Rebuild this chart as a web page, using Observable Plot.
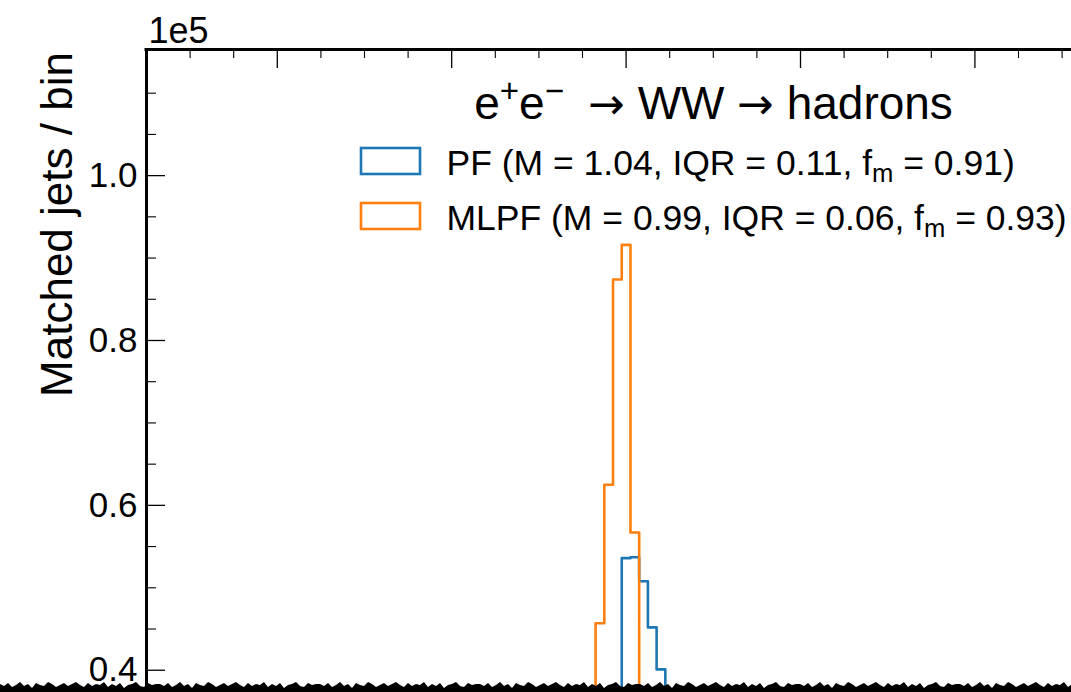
<!DOCTYPE html>
<html><head><meta charset="utf-8">
<script src="https://cdn.jsdelivr.net/npm/d3@7"></script>
<script src="https://cdn.jsdelivr.net/npm/@observablehq/plot@0.6"></script>
<style>
html,body{margin:0;padding:0;background:#fff;overflow:hidden;}
#wrap{position:relative;width:1071px;height:692px;}
#tear{position:absolute;left:0;top:681px;width:1071px;height:11px;background:#000;}
</style></head><body><div id="wrap"><div id="chart"></div><div id="tear"></div></div>
<script>
// ---- data (counts in units of 1e5 matched jets per bin) ----
const mlpfEdges  = [0.9125, 0.9375, 0.9625, 0.9875, 1.0125, 1.0375];
const mlpfCounts = [0.457, 0.625, 0.874, 0.916, 0.567];
const pfEdges    = [0.9875, 1.0125, 1.0375, 1.0625, 1.0875, 1.1125];
const pfCounts   = [0.536, 0.537, 0.508, 0.452, 0.401];
const belowWindow = 0.30;   // neighbouring bins lie below the visible window
const yTicks = [0.4, 0.6, 0.8, 1.0];
const yTickLabels = ["0.4", "0.6", "0.8", "1.0"];
const yMinor = [0.45, 0.5, 0.55, 0.65, 0.7, 0.75, 0.85, 0.9, 0.95, 1.05, 1.1];
const xMajor = [0, 0.5, 1.0, 1.5, 2.0];
const xMinor = [-0.25, -0.125, 0.125, 0.25, 0.375, 0.625, 0.75, 0.875, 1.125, 1.25, 1.375, 1.625, 1.75, 1.875, 2.125, 2.25];
const title = "e^{+}e^{−} → WW → hadrons";
const seriesNames = ["PF", "MLPF"];
const seriesLabels = ["PF (M = 1.04, IQR = 0.11, f_{m} = 0.91)", "MLPF (M = 0.99, IQR = 0.06, f_{m} = 0.93)"];
const seriesColors = ["#1f77b4", "#ff7f0e"];
const yLabel = "Matched jets / bin";
const offsetLabel = "1e5";

// ---- layout ----
const W = 1071, H = 692, ML = 146, MT = 49;
const xDom = [-0.375, -0.375 + (W - ML) / 348.8];
const yDom = [0.373, 1.153];
const X = d3.scaleLinear().domain(xDom).range([ML, W]);
const Y = d3.scaleLinear().domain(yDom).range([H, MT]);
const font = "'Liberation Sans', Arial, Helvetica, sans-serif";

function steps(edges, counts) {
  const pts = [{x: edges[0] - (edges[1] - edges[0]), y: belowWindow}];
  counts.forEach((c, i) => pts.push({x: edges[i], y: c}));
  pts.push({x: edges[edges.length - 1], y: belowWindow});
  pts.push({x: edges[edges.length - 1] + (edges[1] - edges[0]), y: belowWindow});
  return pts;
}

const legend = seriesNames.map((s, i) => ({
  name: s, label: seriesLabels[i], color: seriesColors[i],
  x1: X.invert(361), x2: X.invert(420),
  y1: Y.invert(148 + i * 55), y2: Y.invert(174 + i * 55),
  tx: X.invert(446), ty: Y.invert(174.5 + i * 55)
}));

const chart = Plot.plot({
  width: W, height: H,
  marginLeft: ML, marginRight: 0, marginTop: MT, marginBottom: 0,
  x: {domain: xDom, axis: null},
  y: {domain: yDom, axis: null},
  style: {fontFamily: font, background: "white", overflow: "visible", color: "#000"},
  marks: [
    Plot.line(steps(pfEdges, pfCounts), {x: "x", y: "y", curve: "step-after", stroke: seriesColors[0], strokeWidth: 2.6, clip: true}),
    Plot.line(steps(mlpfEdges, mlpfCounts), {x: "x", y: "y", curve: "step-after", stroke: seriesColors[1], strokeWidth: 2.6, clip: true}),
    Plot.ruleY(yTicks, {y: d => d, x1: xDom[0], x2: X.invert(ML + 19), stroke: "#000", strokeWidth: 1.3}),
    Plot.ruleY(yMinor, {y: d => d, x1: xDom[0], x2: X.invert(ML + 10), stroke: "#000", strokeWidth: 1.1}),
    Plot.ruleX(xMajor, {x: d => d, y1: yDom[1], y2: Y.invert(MT + 19), stroke: "#000", strokeWidth: 1.3}),
    Plot.ruleX(xMinor, {x: d => d, y1: yDom[1], y2: Y.invert(MT + 9), stroke: "#000", strokeWidth: 1.1}),
    Plot.ruleX([xDom[0]], {stroke: "#000", strokeWidth: 3}),
    Plot.ruleY([yDom[1]], {stroke: "#000", strokeWidth: 3, strokeLinecap: "square"}),
    Plot.axisY(yTicks, {tickSize: 0, tickPadding: 9, fontSize: 35, tickFormat: d => yTickLabels[yTicks.indexOf(d)]}),
    Plot.text([offsetLabel], {frameAnchor: "top-left", text: d => d, dx: 2, dy: -7, textAnchor: "start", lineAnchor: "bottom", fontSize: 36}),
    Plot.text([yLabel], {x: xDom[0], y: Y.invert(224), text: d => d, rotate: -90, dx: -89, textAnchor: "middle", lineAnchor: "middle", fontSize: 44}),
    Plot.text([title], {x: X.invert(713), y: Y.invert(118), text: d => d, textAnchor: "middle", lineAnchor: "bottom", fontSize: 46}),
    Plot.rect(legend, {x1: "x1", x2: "x2", y1: "y1", y2: "y2", fill: "none", stroke: "color", strokeWidth: 2.6}),
    Plot.text(legend, {x: "tx", y: "ty", text: "label", textAnchor: "start", lineAnchor: "bottom", fontSize: 35.5})
  ]
});
document.getElementById("chart").appendChild(chart);

// rich text: ^{..} superscript, _{..} subscript, arrows in a wider math-like glyph
const NS = "http://www.w3.org/2000/svg";
chart.querySelectorAll("text").forEach(t => {
  const s = t.textContent;
  if (!/[\^_]\{|→/.test(s)) return;
  const fs = parseFloat(getComputedStyle(t).fontSize);
  const parts = s.split(/([\^_]\{[^}]*\}|→)/).filter(p => p.length);
  while (t.firstChild) t.removeChild(t.firstChild);
  let shift = 0, arrows = 0;
  parts.forEach(p => {
    const ts = document.createElementNS(NS, "tspan");
    let target = 0, txt = p, small = false;
    if (p.startsWith("^{")) { target = -0.36 * fs; txt = p.slice(2, -1); small = true; }
    else if (p.startsWith("_{")) { target = 0.2 * fs; txt = p.slice(2, -1); small = true; }
    ts.setAttribute("dy", (target - shift).toFixed(2));
    shift = target;
    if (small) ts.setAttribute("font-size", (fs * 0.72).toFixed(1));
    if (p === "→") {
      ts.setAttribute("font-family", "'DejaVu Sans', sans-serif");
      ts.setAttribute("font-size", (fs * 0.95).toFixed(1));
      if (arrows++ === 0) ts.setAttribute("dx", (0.25 * fs).toFixed(1));
    }
    ts.textContent = txt;
    t.appendChild(ts);
  });
});

// torn lower edge
const depths = [3,5,2,6,4,1,5,3,7,2,4,5,1,3,6,4,2,5,3,1,4,6,2,5,3,4,1,6,3,5,2,7,4,3,1,5,6,2,4,3];
const pts = [];
for (let i = 0, x = 0; x <= W + 4; i++, x += 4) pts.push(`${x}px ${depths[i % depths.length]}px`);
pts.push(`${W}px 11px`, `0px 11px`);
document.getElementById("tear").style.clipPath = `polygon(${pts.join(",")})`;
</script></body></html>
